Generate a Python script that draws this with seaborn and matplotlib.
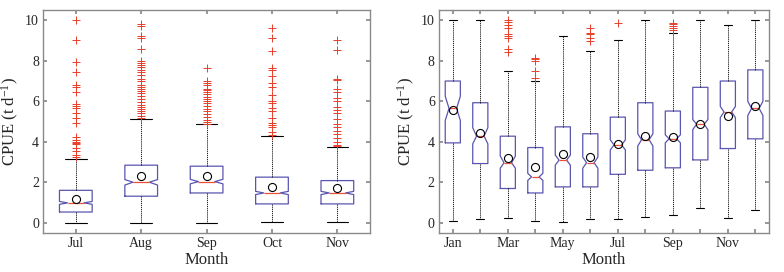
import matplotlib

matplotlib.use("Agg")

import matplotlib.pyplot as plt
import seaborn as sns

# ---- panel (a): Jul-Nov ----
months_a = ["Jul", "Aug", "Sep", "Oct", "Nov"]
q1_a = [0.54, 1.32, 1.48, 0.94, 0.94]
med_a = [0.99, 2.01, 2.04, 1.48, 1.48]
q3_a = [1.61, 2.85, 2.80, 2.26, 2.09]
lo_a = [0.0, 0.0, 0.0, 0.05, 0.05]
hi_a = [3.16, 5.12, 4.86, 4.27, 3.77]
mean_a = [1.20, 2.31, 2.31, 1.76, 1.70]
cilo_a = [0.92, 1.87, 1.93, 1.40, 1.40]
cihi_a = [1.06, 2.14, 2.15, 1.56, 1.56]
fliers_a = [
    [3.25, 3.35, 3.55, 3.7, 3.9, 3.95, 4.0, 4.1, 4.25, 4.95, 5.2, 5.4, 5.65,
     5.75, 5.85, 6.45, 6.7, 6.8, 7.45, 7.95, 9.0, 10.0],
    [5.2, 5.3, 5.4, 5.5, 5.6, 5.7, 5.8, 5.95, 6.1, 6.25, 6.4, 6.5, 6.6, 6.7,
     6.8, 7.0, 7.1, 7.3, 7.45, 7.55, 7.7, 7.8, 7.9, 8.0, 8.6, 9.1, 9.2, 9.7, 9.8],
    [4.9, 5.0, 5.1, 5.25, 5.35, 5.5, 5.6, 5.75, 5.9, 6.0, 6.1, 6.2, 6.35,
     6.45, 6.55, 6.6, 6.8, 6.9, 7.0, 7.65],
    [4.35, 4.5, 4.75, 4.85, 4.95, 5.2, 5.5, 5.65, 5.9, 6.0, 6.3, 6.7, 6.9,
     7.25, 7.55, 7.65, 8.5, 9.1, 9.6],
    [3.8, 3.85, 4.0, 4.2, 4.4, 4.55, 4.75, 4.9, 5.15, 5.4, 5.55, 5.7, 6.0,
     6.15, 6.45, 6.6, 7.05, 7.1, 8.55, 9.0],
]

# ---- panel (b): Jan-Dec ----
months_b = ["Jan", "Feb", "Mar", "Apr", "May", "Jun",
            "Jul", "Aug", "Sep", "Oct", "Nov", "Dec"]
q1_b = [3.95, 2.93, 1.70, 1.48, 1.78, 1.78, 2.40, 2.60, 2.72, 3.11, 3.67, 4.15]
med_b = [5.65, 4.28, 2.97, 2.27, 3.10, 2.97, 3.85, 4.10, 4.15, 4.87, 5.47, 5.65]
q3_b = [7.00, 5.93, 4.28, 3.72, 4.74, 4.40, 5.22, 5.93, 5.52, 6.69, 7.00, 7.55]
lo_b = [0.08, 0.20, 0.25, 0.08, 0.05, 0.20, 0.20, 0.30, 0.38, 0.72, 0.25, 0.65]
hi_b = [10.0, 10.0, 7.50, 7.00, 9.22, 8.50, 9.00, 10.0, 9.35, 10.0, 9.78, 10.0]
mean_b = [5.57, 4.42, 3.20, 2.75, 3.38, 3.26, 3.90, 4.30, 4.22, 4.88, 5.27, 5.75]
cilo_b = [5.05, 3.90, 2.70, 2.10, 2.85, 2.70, 3.60, 3.80, 3.95, 4.60, 5.20, 5.30]
cihi_b = [6.25, 4.70, 3.30, 2.45, 3.35, 3.25, 4.10, 4.40, 4.35, 5.10, 5.75, 6.00]
fliers_b = [
    [], [],
    [8.45, 8.6, 9.1, 9.2, 9.3, 9.6, 9.75, 9.9, 10.0],
    [7.15, 7.5, 8.0, 8.1, 8.15],
    [],
    [8.95, 9.1, 9.3, 9.35, 9.6],
    [9.85],
    [],
    [9.5, 9.6, 9.7, 9.8, 9.85],
    [], [], [],
]

BOX_COLOR = "#5a55b0"
MED_COLOR = "#e8503a"
FLIER_COLOR = "#e8402a"
FRAME_COLOR = "#8a8a8a"


def build_stats(q1, med, q3, lo, hi, mean, cilo, cihi, fliers):
    stats = []
    for i in range(len(q1)):
        stats.append({
            "q1": q1[i], "med": med[i], "q3": q3[i],
            "whislo": lo[i], "whishi": hi[i], "mean": mean[i],
            "cilo": cilo[i], "cihi": cihi[i], "fliers": fliers[i],
        })
    return stats


def draw_panel(ax, stats, labels, width, capwidth, label_every):
    positions = list(range(1, len(stats) + 1))
    ax.bxp(
        stats,
        positions=positions,
        widths=width,
        capwidths=capwidth,
        shownotches=True,
        showmeans=True,
        boxprops={"color": BOX_COLOR, "linewidth": 0.9},
        medianprops={"color": MED_COLOR, "linewidth": 0.9},
        whiskerprops={"color": "black", "linewidth": 0.6, "linestyle": (0, (1.5, 1.0))},
        capprops={"color": "black", "linewidth": 0.8},
        flierprops={"marker": "+", "markeredgecolor": FLIER_COLOR,
                    "markersize": 6, "markeredgewidth": 0.7, "linestyle": "none"},
        meanprops={"marker": "o", "markerfacecolor": "none",
                   "markeredgecolor": "black", "markersize": 5.8,
                   "markeredgewidth": 0.8},
    )
    ax.set_xlim(0.5, len(stats) + 0.5)
    ax.set_ylim(-0.5, 10.5)
    ax.set_yticks([0, 2, 4, 6, 8, 10])
    ax.set_xticks(positions)
    ax.set_xticklabels([lab if i % label_every == 0 else "" for i, lab in enumerate(labels)])
    ax.set_xlabel("Month", fontsize=12, labelpad=1)
    ax.set_ylabel(r"CPUE (t d$^{\mathregular{-1}}$)", fontsize=12, labelpad=3)
    ax.tick_params(direction="in", top=True, right=True, length=3,
                   color=FRAME_COLOR, labelsize=10, pad=3)
    for spine in ax.spines.values():
        spine.set_color(FRAME_COLOR)
        spine.set_linewidth(1.0)
    ax.grid(False)


def main():
    sns.set_theme(style="ticks")
    plt.rcParams["font.family"] = ["Liberation Serif", "DejaVu Serif"]
    plt.rcParams["mathtext.fontset"] = "custom"
    plt.rcParams["mathtext.rm"] = "Liberation Serif"
    plt.rcParams["mathtext.default"] = "regular"

    fig = plt.figure(figsize=(7.84, 2.72), dpi=100)
    ax_a = fig.add_axes([0.055, 0.143, 0.417, 0.82])
    ax_b = fig.add_axes([0.56, 0.143, 0.421, 0.82])

    stats_a = build_stats(q1_a, med_a, q3_a, lo_a, hi_a, mean_a, cilo_a, cihi_a, fliers_a)
    stats_b = build_stats(q1_b, med_b, q3_b, lo_b, hi_b, mean_b, cilo_b, cihi_b, fliers_b)

    draw_panel(ax_a, stats_a, months_a, width=0.5, capwidth=0.33, label_every=1)
    draw_panel(ax_b, stats_b, months_b, width=0.55, capwidth=0.3, label_every=2)

    fig.savefig("out.png", dpi=100)
    plt.close(fig)


if __name__ == "__main__":
    main()
